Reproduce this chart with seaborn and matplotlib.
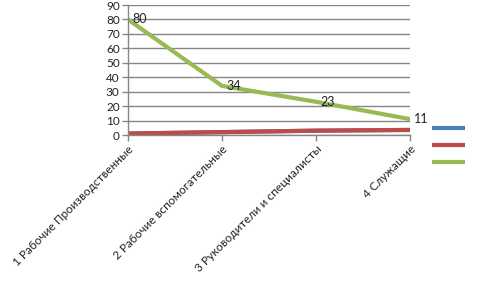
import matplotlib
matplotlib.use("Agg")
import matplotlib.pyplot as plt
from matplotlib.lines import Line2D
import seaborn as sns
import pandas as pd

categories = ["1 Рабочие Производственные", "2 Рабочие вспомогательные",
              "3 Руководители и специалисты", "4 Служащие"]
series1 = [1, 2, 3, 3.5]
series2 = [1, 2, 3, 3.5]
series3 = [80, 34, 23, 11]
yticks = [0, 10, 20, 30, 40, 50, 60, 70, 80, 90]

colors = ["#4a7ebb", "#be4b48", "#98b954"]

sns.set_theme(style="white")
plt.rcParams['font.family'] = ['Lato', 'DejaVu Sans']

fig = plt.figure(figsize=(4.8, 2.88), dpi=100)
ax = fig.add_axes([128/480, 1-135/288, (410-128)/480, 130/288])

df = pd.DataFrame({"cat": categories, "s1": series1, "s2": series2, "s3": series3})
for col, c in zip(["s1", "s2", "s3"], colors):
    sns.lineplot(data=df, x="cat", y=col, ax=ax, color=c, lw=3.0, sort=False, legend=False)

for i, v in enumerate(series3):
    ax.annotate(str(v), (i, v), xytext=(3, 0), textcoords="offset points",
                ha="left", va="center", fontsize=9, color="#222222")

ax.set_xlim(0, 3)
ax.set_ylim(0, 90)
ax.set_yticks(yticks)
ax.set_yticklabels([str(t) for t in yticks], fontsize=8.5, color="#222222")
ax.set_xticks(range(len(categories)))
ax.set_xticklabels(categories, fontsize=8.5, color="#222222", rotation=45,
                   ha="right", va="top", rotation_mode="anchor")
ax.set_xlabel("")
ax.set_ylabel("")
ax.grid(axis="y", color="#868686", lw=1)
ax.set_axisbelow(True)
for s in ["top", "right"]:
    ax.spines[s].set_visible(False)
for s in ["left", "bottom"]:
    ax.spines[s].set_color("#868686")
    ax.spines[s].set_linewidth(1)
ax.tick_params(axis="both", which="major", length=4, color="#868686", width=1,
               bottom=True, left=True, direction="out", pad=2)

handles = [Line2D([0], [0], color=c, lw=3.0, solid_capstyle="butt") for c in colors]
fig.legend(handles, ["", "", ""], loc="upper left", bbox_to_anchor=(422/480, 1-113/288),
           frameon=False, handlelength=3.0, labelspacing=0.55, fontsize=8,
           handletextpad=0)

fig.savefig("out.png", dpi=100)
